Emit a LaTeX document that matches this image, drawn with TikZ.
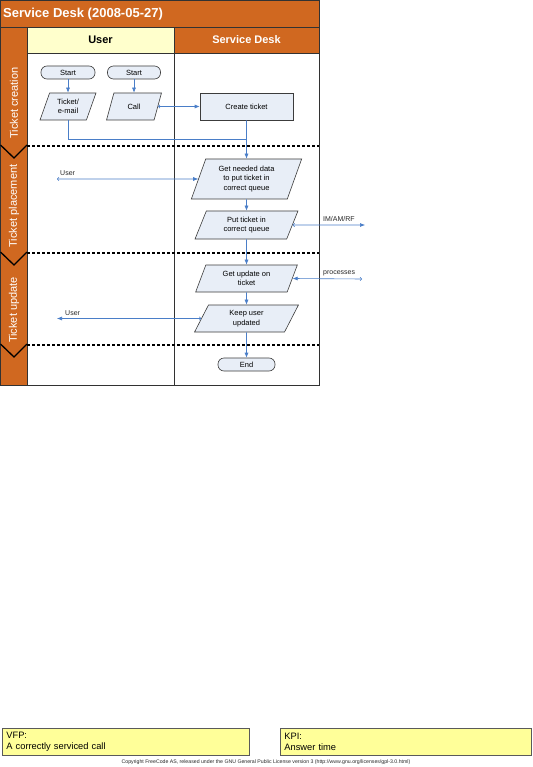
\documentclass[tikz,border=0pt]{standalone}
\usepackage{fontspec}
\setmainfont{Liberation Sans}
\usetikzlibrary{shapes.geometric,arrows.meta}
\definecolor{sdorange}{RGB}{208,104,32}
\definecolor{laneyellow}{RGB}{255,255,204}
\definecolor{boxfill}{RGB}{232,238,247}
\definecolor{boxline}{RGB}{60,60,60}
\definecolor{conn}{RGB}{74,126,200}
\definecolor{noteyellow}{RGB}{255,255,153}
\definecolor{frameline}{RGB}{50,50,50}
\definecolor{notebord}{RGB}{90,90,90}
\begin{document}
\begin{tikzpicture}[x=1pt,y=-1pt,
  boxtext/.style={align=center,font=\fontsize{7.5}{9.5}\selectfont,inner sep=1pt},
  proc/.style={boxtext,draw=boxline,fill=boxfill,line width=0.6pt,minimum width=93pt,minimum height=27pt},
  io/.style={boxtext,trapezium,trapezium left angle=70,trapezium right angle=110,trapezium stretches=true,draw=boxline,fill=boxfill,line width=0.6pt},
  term/.style={boxtext,draw=boxline,fill=boxfill,line width=0.6pt,rounded corners=6pt,minimum height=13pt},
  plain/.style={draw=conn,line width=0.6pt},
  flow/.style={plain,-{Latex[length=5pt,width=4pt]}},
  flowx/.style={plain,{Straight Barb[length=1.5pt,width=3.5pt]}-{Latex[length=5pt,width=4pt]}},
  lbl/.style={font=\fontsize{7}{8}\selectfont,inner sep=0pt,text=black!85},
  phase/.style={rotate=90,text=white,font=\fontsize{11}{13}\selectfont,inner sep=0pt},
  hdr/.style={font=\bfseries\fontsize{11}{13}\selectfont,inner sep=0pt},
  sepline/.style={black,line width=1.3pt,dash pattern=on 3pt off 2pt},
  chev/.style={black,line width=1.3pt},
  note/.style={draw=notebord,fill=noteyellow,line width=0.8pt,align=left,font=\fontsize{9.3}{11}\selectfont,inner xsep=4pt,minimum height=27pt}
]
\useasboundingbox (0,0) rectangle (532,767);
% frame and bands
\fill[white] (0,0) rectangle (319,385);
\filldraw[fill=sdorange,draw=frameline,line width=0.8pt] (0,0) rectangle (319,27);
\filldraw[fill=sdorange,draw=frameline,line width=0.8pt] (0,27) rectangle (27,385);
\filldraw[fill=laneyellow,draw=frameline,line width=0.8pt] (27,27) rectangle (174,53);
\filldraw[fill=sdorange,draw=frameline,line width=0.8pt] (174,27) rectangle (319,53);
\draw[frameline,line width=0.8pt] (174,53) -- (174,385);
\draw[frameline,line width=0.8pt] (0,0) rectangle (319,385);
\node[anchor=west,text=white,font=\bfseries\fontsize{13}{15}\selectfont,inner sep=0pt] (title) at (3,14) {Service Desk (2008-05-27)};
\node[hdr] (hu) at (100.5,40) {User};
\node[hdr,text=white] (hs) at (246.5,40) {Service Desk};
% phase separators
\foreach \yy in {146,253,345} {
  \draw[sepline] (27,\yy) -- (319,\yy);
  \draw[chev] (0.5,\yy-1) -- (14,\yy+12) -- (27,\yy-1);
}
\node[phase] (p1) at (14,103) {Ticket creation};
\node[phase] (p2) at (14,206) {Ticket placement};
\node[phase] (p3) at (14,310) {Ticket update};
% nodes
\node[term,minimum width=54pt] (s1) at (68,72.5) {Start};
\node[term,minimum width=53pt] (s2) at (134,72.5) {Start};
\node[io,minimum width=56pt,minimum height=27pt] (tk) at (68,106.5) {Ticket/\\e-mail};
\node[io,minimum width=55pt,minimum height=27pt] (call) at (134,106.5) {Call};
\node[proc] (ct) at (246.5,106.5) {Create ticket};
\node[io,minimum width=111pt,minimum height=40pt] (gd) at (246.5,179) {Get needed data\\to put ticket in\\correct queue};
\node[io,minimum width=103pt,minimum height=28pt] (pt) at (246.5,225) {Put ticket in\\correct queue};
\node[io,minimum width=102pt,minimum height=27pt] (gu) at (246.5,278.5) {Get update on\\ticket};
\node[io,minimum width=104pt,minimum height=27pt] (ku) at (246.5,318.5) {Keep user\\updated};
\node[term,minimum width=57pt] (end) at (246.5,364.5) {End};
% connectors
\draw[flow] (s1) -- (tk);
\draw[flow] (s2) -- (call);
\draw[flowx] (call.east) -- (ct.west);
\coordinate (j) at (246.5,139);
\draw[plain] (tk.south) |- (j);
\draw[flow] (ct) -- (gd);
\coordinate (u1) at (57,179);
\draw[flowx] (u1) -- (gd.west);
\node[lbl,anchor=base west] (lu1) at (60,175.5) {User};
\draw[flow] (gd) -- (pt);
\coordinate (im) at (365,225);
\draw[flowx] (pt.east) -- (im);
\node[lbl,anchor=base west] (lim) at (323,222) {IM/AM/RF};
\draw[flow] (pt) -- (gu);
\coordinate (pr) at (362,279);
\draw[flowx] (pr) -- (gu.east);
\node[lbl,anchor=base west] (lpr) at (323,274.5) {processes};
\draw[flow] (gu) -- (ku);
\coordinate (u2) at (57,318.5);
\draw[flowx] (ku.west) -- (u2);
\node[lbl,anchor=base west] (lu2) at (65,315) {User};
\draw[flow] (ku) -- (end);
% notes
\node[note,text width=239pt,anchor=north west] (vfp) at (2,728) {VFP:\\A correctly serviced call};
\node[note,text width=243pt,anchor=north west] (kpi) at (280,728) {KPI:\\Answer time};
\node[font=\fontsize{5.2}{6}\selectfont,inner sep=0pt,text=black!85] (copy) at (266,762) {Copyright FreeCode AS, released under the GNU General Public License version 3 (http://www.gnu.org/licenses/gpl-3.0.html)};
\end{tikzpicture}
\end{document}
